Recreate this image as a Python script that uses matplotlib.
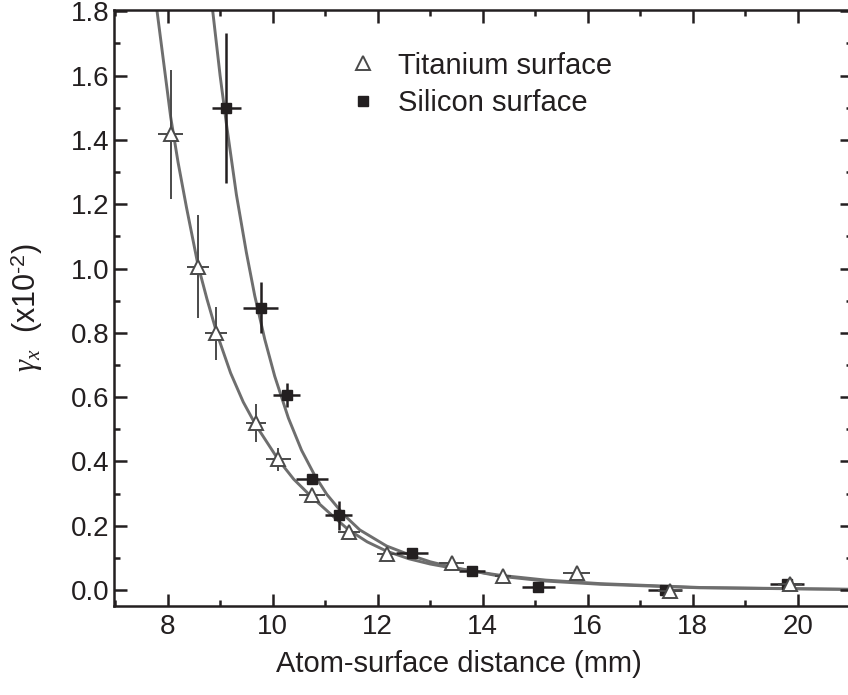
import numpy as np
import matplotlib
matplotlib.use("Agg")
import matplotlib.pyplot as plt
from matplotlib.ticker import MultipleLocator

plt.rcParams['font.family'] = ['Liberation Sans', 'DejaVu Sans']
plt.rcParams['mathtext.fontset'] = 'custom'
plt.rcParams['mathtext.rm'] = 'Liberation Sans'
plt.rcParams['mathtext.it'] = 'Liberation Serif:italic'
plt.rcParams['mathtext.sf'] = 'Liberation Sans'

# Titanium surface (open triangles)
ti_x = [8.06, 8.58, 8.92, 9.68, 10.11, 10.75, 11.46, 12.17, 13.41, 14.38, 15.79, 17.57, 19.85]
ti_y = [1.417, 1.006, 0.798, 0.520, 0.407, 0.295, 0.181, 0.112, 0.083, 0.044, 0.054, -0.002, 0.019]
ti_xerr = [0.24, 0.21, 0.21, 0.19, 0.24, 0.24, 0.21, 0.18, 0.24, 0.15, 0.26, 0.23, 0.23]
ti_yerr = [0.20, 0.16, 0.083, 0.058, 0.036, 0.015, 0.02, 0.0, 0.0, 0.0, 0.0, 0.0, 0.0]

# Silicon surface (filled squares)
si_x = [9.12, 9.77, 10.27, 10.75, 11.26, 12.65, 13.80, 15.06, 17.47, 19.79]
si_y = [1.500, 0.878, 0.606, 0.346, 0.233, 0.114, 0.060, 0.010, 0.0, 0.019]
si_xerr = [0.27, 0.33, 0.26, 0.31, 0.26, 0.31, 0.25, 0.31, 0.33, 0.32]
si_yerr = [0.234, 0.08, 0.037, 0.016, 0.045, 0.0, 0.0, 0.0, 0.0, 0.0]

# fit curves
ti_fit_x = [7.80, 8.06, 8.20, 8.36, 8.58, 8.75, 8.945, 9.2, 9.44, 9.68, 10.11, 10.40, 10.74,
            11.10, 11.44, 11.80, 12.17, 12.6, 13.0, 13.4, 14.33, 15.2, 16.24, 18.14, 21.1]
ti_fit_y = [1.80, 1.47, 1.33, 1.19, 1.01, 0.905, 0.795, 0.675, 0.585, 0.513, 0.405, 0.345, 0.29,
            0.237, 0.188, 0.150, 0.121, 0.097, 0.081, 0.069, 0.046, 0.031, 0.020, 0.008, 0.002]
si_fit_x = [8.86, 9.00, 9.12, 9.31, 9.50, 9.66, 9.85, 10.04, 10.30, 10.55, 10.80, 11.03, 11.35,
            11.66, 12.17, 12.65, 13.0, 13.4, 14.33, 15.2, 16.24, 18.14, 21.1]
si_fit_y = [1.80, 1.60, 1.45, 1.23, 1.05, 0.915, 0.78, 0.665, 0.535, 0.435, 0.357, 0.298, 0.235,
            0.187, 0.137, 0.107, 0.088, 0.072, 0.043, 0.028, 0.018, 0.007, 0.002]

dark = '#231f20'

fig = plt.figure(figsize=(8.48, 6.95), dpi=100)
ax = fig.add_axes([114/848, 1-605.5/695, (852-114)/848, (605.5-10)/695])

ax.plot(ti_fit_x, ti_fit_y, color='#6e6e6e', lw=2.1, zorder=1)
ax.plot(si_fit_x, si_fit_y, color='#6e6e6e', lw=2.1, zorder=1)

ax.errorbar(si_x, si_y, xerr=si_xerr, yerr=si_yerr, fmt='none', ecolor=dark,
            elinewidth=1.8, capsize=0, zorder=2)
sq, = ax.plot(si_x, si_y, ls='none', marker='s', ms=7.3, color=dark,
              mec=dark, label='Silicon surface', zorder=3)

ax.errorbar(ti_x, ti_y, xerr=ti_xerr, yerr=ti_yerr, fmt='none', ecolor='#4a4a4a',
            elinewidth=1.4, capsize=0, zorder=4)
tri, = ax.plot(ti_x, ti_y, ls='none', marker='^', ms=10, mfc='white', mec='#4a4a4a',
               mew=1.4, label='Titanium surface', zorder=5)

ax.set_xlim(6.98, 21.03)
ax.set_ylim(-0.048, 1.804)
ax.xaxis.set_major_locator(MultipleLocator(2))
ax.xaxis.set_minor_locator(MultipleLocator(1))
ax.yaxis.set_major_locator(MultipleLocator(0.2))
ax.yaxis.set_minor_locator(MultipleLocator(0.1))
ax.yaxis.set_major_formatter(matplotlib.ticker.FormatStrFormatter('%.1f'))

ax.tick_params(which='both', direction='in', top=True, right=True, width=1.8, color=dark,
               labelsize=20, labelcolor=dark)
ax.tick_params(which='major', length=9)
ax.tick_params(which='minor', length=4.5)
ax.tick_params(axis='x', pad=6)
ax.tick_params(axis='y', pad=3)
for s in ax.spines.values():
    s.set_linewidth(1.8)
    s.set_color(dark)

ax.set_xlabel('Atom-surface distance (mm)', fontsize=21, color=dark)
ax.xaxis.set_label_coords(0.467, -0.075)
ax.set_ylabel(r'$\gamma_x$  (x10$^{\text{-2}}$)', fontsize=22, color=dark)
ax.yaxis.set_label_coords(-0.093, 0.5)

ax.legend(handles=[tri, sq], loc='upper left', bbox_to_anchor=(0.3216, 0.93),
          frameon=False, fontsize=21, handlelength=0.8, handletextpad=0.8,
          borderpad=0, borderaxespad=0, labelspacing=0.33, labelcolor=dark)

fig.savefig('out.png', dpi=100)
